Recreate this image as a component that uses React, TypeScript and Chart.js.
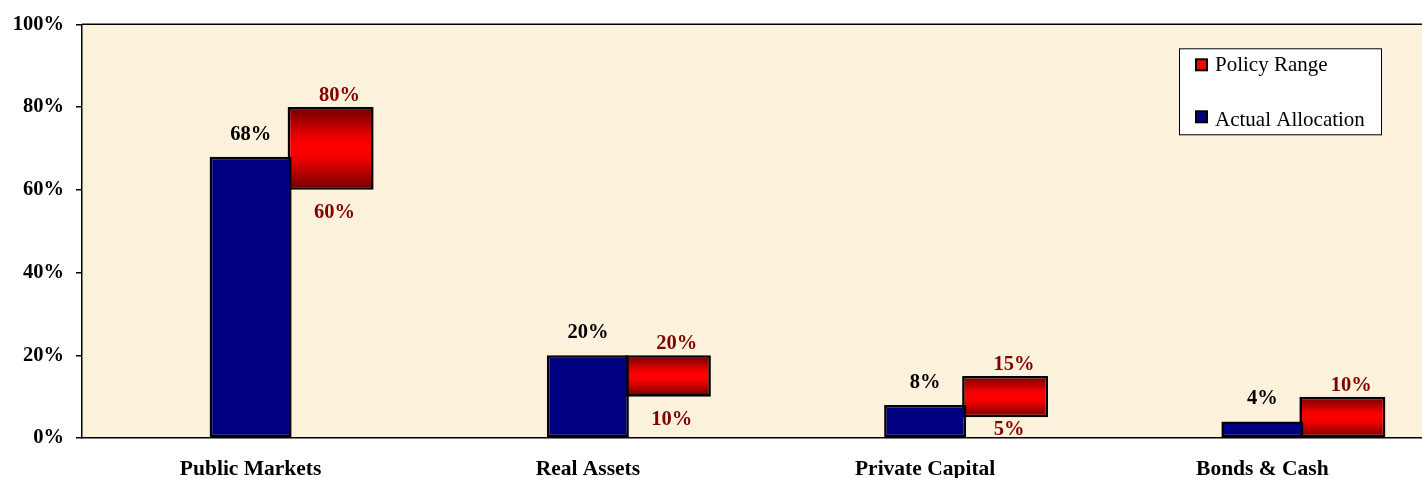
import React, { useEffect, useRef } from 'react';
import { Chart, registerables } from 'chart.js';

Chart.register(...registerables);

const categories = ['Public Markets', 'Real Assets', 'Private Capital', 'Bonds & Cash'];
const actualAllocation = [68, 20, 8, 4];
const policyLow = [60, 10, 5, 0];
const policyHigh = [80, 20, 15, 10];
const yTickStep = 20;
const legendLabels = ['Policy Range', 'Actual Allocation'];

const SERIF = '"Times New Roman", "Liberation Serif", serif';
const NAVY = '#000080';
const LABEL_RED = '#800000';
const PARCHMENT = '#FCF2DC';

const backgroundPlugin = {
  id: 'plotBackground',
  beforeDraw(chart: any) {
    const { ctx, chartArea } = chart;
    ctx.save();
    ctx.fillStyle = PARCHMENT;
    ctx.fillRect(chartArea.left, chartArea.top, chartArea.right - chartArea.left, chartArea.bottom - chartArea.top);
    ctx.restore();
  },
  afterDraw(chart: any) {
    const { ctx, chartArea } = chart;
    ctx.save();
    ctx.strokeStyle = '#000';
    ctx.lineWidth = 1.5;
    ctx.beginPath();
    ctx.moveTo(chartArea.left, chartArea.top);
    ctx.lineTo(chartArea.right, chartArea.top);
    ctx.stroke();
    ctx.restore();
  },
};

const valueLabelsPlugin = {
  id: 'valueLabels',
  afterDatasetsDraw(chart: any) {
    const { ctx, chartArea } = chart;
    const yScale = chart.scales.y;
    const blueMeta = chart.getDatasetMeta(1);
    const redMeta = chart.getDatasetMeta(2);
    ctx.save();
    ctx.font = `bold 20.5px ${SERIF}`;
    ctx.textAlign = 'center';
    ctx.textBaseline = 'alphabetic';
    blueMeta.data.forEach((el: any, i: number) => {
      ctx.fillStyle = '#000';
      ctx.fillText(`${actualAllocation[i]}%`, el.x, el.y - 17);
    });
    redMeta.data.forEach((el: any, i: number) => {
      const top = yScale.getPixelForValue(policyHigh[i]);
      const bot = yScale.getPixelForValue(policyLow[i]);
      ctx.fillStyle = LABEL_RED;
      ctx.fillText(`${policyHigh[i]}%`, el.x + 9, top - 6);
      if (policyLow[i] > 0) {
        ctx.fillText(`${policyLow[i]}%`, el.x + 4, Math.min(bot + 28, chartArea.bottom - 3));
      }
    });
    ctx.restore();
  },
};

const legendPlugin = {
  id: 'customLegend',
  afterDraw(chart: any) {
    const { ctx, chartArea } = chart;
    const boxX = chartArea.right - 252;
    const boxY = chartArea.top + 24;
    ctx.save();
    ctx.fillStyle = '#FFFFFF';
    ctx.fillRect(boxX, boxY, 202, 86);
    ctx.strokeStyle = '#000';
    ctx.lineWidth = 1;
    ctx.strokeRect(boxX + 0.5, boxY + 0.5, 202, 86);
    const colors = ['#FF0000', NAVY];
    const rows = [boxY + 11, boxY + 63];
    const baselines = [boxY + 23, boxY + 78];
    ctx.font = `21px ${SERIF}`;
    ctx.textAlign = 'left';
    ctx.textBaseline = 'alphabetic';
    legendLabels.forEach((label, i) => {
      ctx.fillStyle = colors[i];
      ctx.fillRect(boxX + 17, rows[i], 11, 11);
      ctx.strokeStyle = '#000';
      ctx.lineWidth = 2;
      ctx.strokeRect(boxX + 17, rows[i], 11, 11);
      ctx.fillStyle = '#000';
      ctx.fillText(label, boxX + 36, baselines[i]);
    });
    ctx.restore();
  },
};

export default function App() {
  const canvasRef = useRef<HTMLCanvasElement>(null);

  useEffect(() => {
    document.body.style.margin = '0';
    const redGradient = (context: any) => {
      const chart = context.chart;
      const yScale = chart.scales && chart.scales.y;
      const i = context.dataIndex;
      if (!yScale || i == null || context.type !== 'data') return '#FF0000';
      const top = yScale.getPixelForValue(policyHigh[i]);
      const bot = yScale.getPixelForValue(policyLow[i]);
      if (!isFinite(top) || !isFinite(bot) || top === bot) return '#FF0000';
      const g = chart.ctx.createLinearGradient(0, top, 0, bot);
      g.addColorStop(0, '#6E0000');
      g.addColorStop(0.38, '#F20000');
      g.addColorStop(0.5, '#FF0000');
      g.addColorStop(0.62, '#F20000');
      g.addColorStop(1, '#6E0000');
      return g;
    };

    const chart = new Chart(canvasRef.current!, {
      type: 'bar',
      data: {
        labels: categories,
        datasets: [
          {
            label: '',
            data: categories.map(() => null),
            barPercentage: 1,
          },
          {
            label: legendLabels[1],
            data: actualAllocation,
            backgroundColor: NAVY,
            borderColor: '#000',
            borderWidth: 2.6,
            borderSkipped: false,
            barPercentage: 1.025,
          },
          {
            label: legendLabels[0],
            data: policyLow.map((lo, i) => [lo, policyHigh[i]]),
            backgroundColor: redGradient,
            borderColor: '#000',
            borderWidth: 2.6,
            borderSkipped: false,
            barPercentage: 1.075,
          },
        ] as any,
      },
      options: {
        animation: false,
        responsive: true,
        maintainAspectRatio: false,
        events: [],
        layout: { padding: { top: 22, right: 0, bottom: 0, left: 0 } },
        datasets: { bar: { categoryPercentage: 0.7116, grouped: true } } as any,
        plugins: {
          legend: { display: false },
          tooltip: { enabled: false },
        },
        scales: {
          x: {
            grid: { display: false, drawTicks: false },
            border: { display: true, color: '#000', width: 1.5 },
            ticks: {
              color: '#000',
              font: { family: SERIF, size: 21.5, weight: 'bold' },
              padding: 19,
              maxRotation: 0,
              autoSkip: false,
            },
            afterFit: (s: any) => {
              s.height = 40;
            },
          },
          y: {
            min: 0,
            max: 100,
            grid: { drawOnChartArea: false, drawTicks: true, tickLength: 6, color: '#000', lineWidth: 1.5 },
            border: { display: true, color: '#000', width: 1.5 },
            ticks: {
              stepSize: yTickStep,
              color: '#000',
              padding: 12,
              font: { family: SERIF, size: 20.5, weight: 'bold' },
              callback: (v: any) => `${v}%`,
            },
            afterFit: (s: any) => {
              s.width = 82;
            },
          },
        },
      },
      plugins: [backgroundPlugin, valueLabelsPlugin, legendPlugin],
    });
    return () => chart.destroy();
  }, []);

  return (
    <div style={{ width: 1422, height: 478, overflow: 'hidden', background: '#FFFFFF' }}>
      <div style={{ position: 'relative', width: 1431, height: 478 }}>
        <canvas ref={canvasRef} />
      </div>
    </div>
  );
}
